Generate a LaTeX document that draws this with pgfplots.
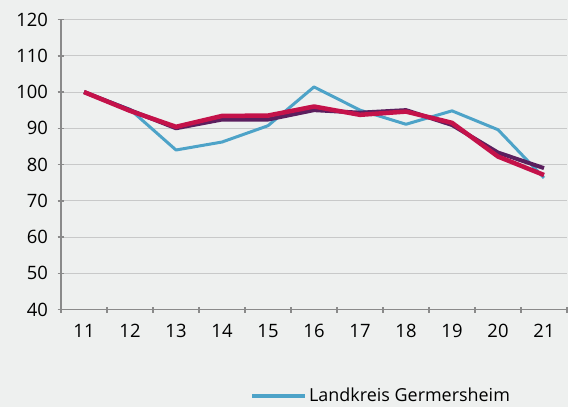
\documentclass[border=0pt]{standalone}
\usepackage{pgfplots}
\pgfplotsset{compat=1.18}
\usepackage{fontspec}
\setmainfont{Open Sans}
\definecolor{bg}{HTML}{EEF0EF}
\definecolor{cblue}{HTML}{4DA3C8}
\definecolor{cpurple}{HTML}{5B1F5E}
\definecolor{cred}{HTML}{C4124A}
\definecolor{axgray}{HTML}{8A8A8A}
\definecolor{grgray}{HTML}{C8C9C9}
\begin{document}
\begin{tikzpicture}
\useasboundingbox (-61bp,-97.5bp) rectangle (507bp,309.5bp);
\fill[bg] (-61bp,-97.5bp) rectangle (507bp,309.5bp);
\clip (-61bp,-97.5bp) rectangle (507bp,309.5bp);
\begin{axis}[
  at={(0,0)}, anchor=south west,
  scale only axis, width=506bp, height=290bp,
  xmin=10.5, xmax=21.5, ymin=40, ymax=120,
  xtick={11,...,21}, ytick={40,50,...,120},
  minor xtick={10.5,11.5,...,21.5},
  major x tick style={draw=none},
  tick align=outside,
  major tick length=7bp, minor tick length=6bp,
  every tick/.style={axgray, line width=1.5bp},
  axis x line=bottom, axis y line=left,
  axis line style={-, axgray, line width=1.6bp},
  ymajorgrids, grid style={grgray, line width=1bp},
  tick label style={font=\fontsize{18.5}{20}\selectfont, text=black},
  /pgf/number format/assume math mode=true,
  xticklabel style={yshift=-8bp},
  yticklabel style={xshift=-6bp},
  clip=false,
  legend style={draw=none, fill=none, at={(0.3735,-0.297)}, anchor=west,
    inner sep=0pt, font=\fontsize{18}{20}\selectfont},
  legend image code/.code={\draw[#1,line width=4bp] (0bp,0bp) -- (53bp,0bp);},
]
\addplot[cblue, line width=3bp, line join=round] coordinates {
(11,100) (12,95.2) (13,84) (14,86.2) (15,90.7) (16,101.4) (17,95) (18,91.1) (19,94.8) (20,89.6) (21,76.3)};
\addlegendentry{Landkreis Germersheim}
\addplot[cpurple, line width=4bp, line join=round, forget plot] coordinates {
(11,100) (12,95) (13,90) (14,92.4) (15,92.4) (16,95) (17,94.3) (18,95) (19,90.9) (20,83.3) (21,79)};
\addplot[cred, line width=4.5bp, line join=round, forget plot] coordinates {
(11,100) (12,94.8) (13,90.4) (14,93.4) (15,93.5) (16,96) (17,93.7) (18,94.6) (19,91.5) (20,82.2) (21,77.1)};
\end{axis}
\end{tikzpicture}
\end{document}
